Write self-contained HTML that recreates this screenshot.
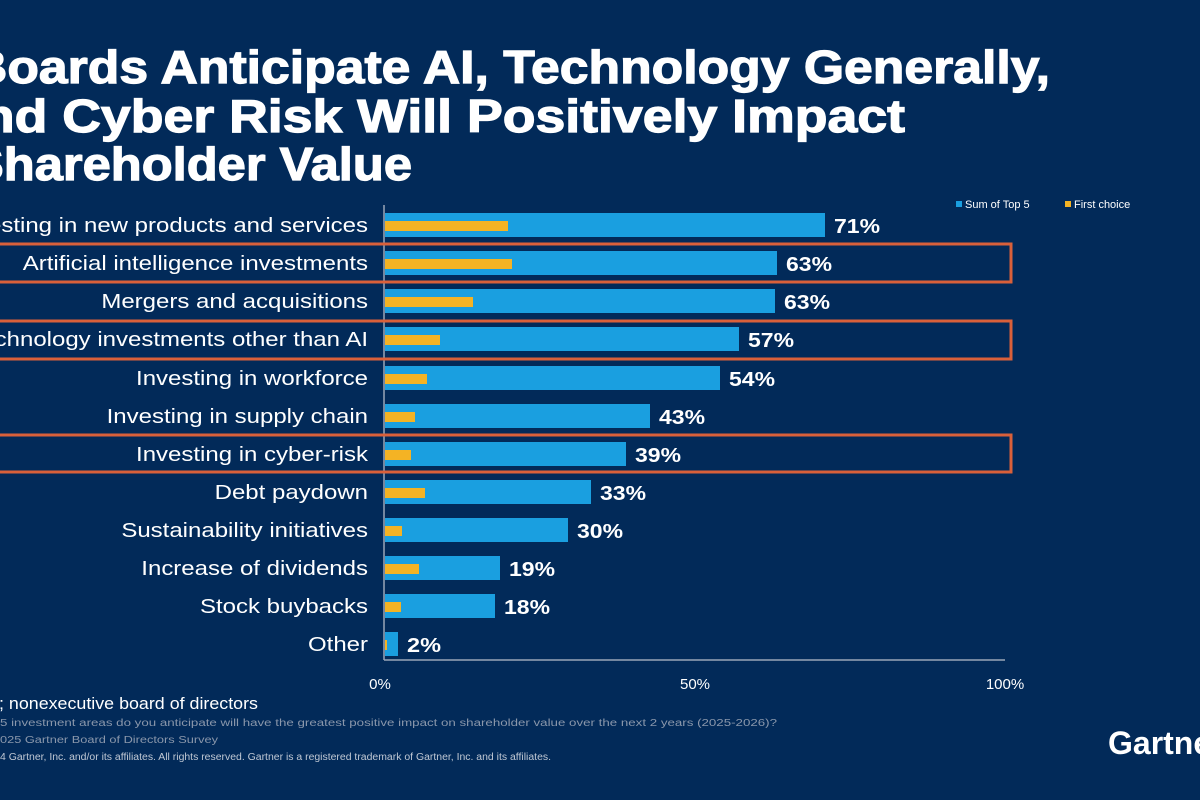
<!DOCTYPE html>
<html><head><meta charset="utf-8"><style>
html,body{margin:0;padding:0;background:#022a59;}
svg{display:block;font-family:"Liberation Sans",Arial,sans-serif;}
</style></head><body>
<svg width="1200" height="800" viewBox="0 0 1200 800" xmlns="http://www.w3.org/2000/svg">
<rect width="1200" height="800" fill="#022a59"/>
<g fill="#fff" font-weight="bold" font-size="46" stroke="#fff" stroke-width="1.2">
<text x="-30" y="83" textLength="1080" lengthAdjust="spacingAndGlyphs">Boards Anticipate AI, Technology Generally,</text>
<text x="-48" y="132" textLength="953" lengthAdjust="spacingAndGlyphs">and Cyber Risk Will Positively Impact</text>
<text x="-30" y="180" textLength="442" lengthAdjust="spacingAndGlyphs">Shareholder Value</text>
</g>
<g font-size="11" fill="#fff">
<rect x="956" y="201" width="6" height="6" fill="#1a9fe0"/><text x="965" y="208">Sum of Top 5</text>
<rect x="1065" y="201" width="6" height="6" fill="#f4b324"/><text x="1074" y="208">First choice</text>
</g>
<line x1="384" y1="205" x2="384" y2="660" stroke="#9aa6b8" stroke-width="1.5"/>
<line x1="384" y1="660" x2="1005" y2="660" stroke="#9aa6b8" stroke-width="1.5"/>
<g font-size="15" fill="#fff" text-anchor="middle">
<text x="380" y="689">0%</text><text x="695" y="689">50%</text><text x="1005" y="689">100%</text>
</g>
<g fill="#1a9fe0">
<rect x="385" y="213" width="440" height="24"/>
<rect x="385" y="251" width="392" height="24"/>
<rect x="385" y="289" width="390" height="24"/>
<rect x="385" y="327" width="354" height="24"/>
<rect x="385" y="366" width="335" height="24"/>
<rect x="385" y="404" width="265" height="24"/>
<rect x="385" y="442" width="241" height="24"/>
<rect x="385" y="480" width="206" height="24"/>
<rect x="385" y="518" width="183" height="24"/>
<rect x="385" y="556" width="115" height="24"/>
<rect x="385" y="594" width="110" height="24"/>
<rect x="385" y="632" width="13" height="24"/>
</g>
<g fill="#f4b324">
<rect x="385" y="221" width="123" height="10"/>
<rect x="385" y="259" width="127" height="10"/>
<rect x="385" y="297" width="88" height="10"/>
<rect x="385" y="335" width="55" height="10"/>
<rect x="385" y="374" width="42" height="10"/>
<rect x="385" y="412" width="30" height="10"/>
<rect x="385" y="450" width="26" height="10"/>
<rect x="385" y="488" width="40" height="10"/>
<rect x="385" y="526" width="17" height="10"/>
<rect x="385" y="564" width="34" height="10"/>
<rect x="385" y="602" width="16" height="10"/>
<rect x="385" y="640" width="2" height="10"/>
</g>
<g transform="translate(368,0) scale(1.2,1)" font-size="20" fill="#fff" text-anchor="end">
<text x="0" y="232">Investing in new products and services</text>
<text x="0" y="270">Artificial intelligence investments</text>
<text x="0" y="308">Mergers and acquisitions</text>
<text x="0" y="346">Technology investments other than AI</text>
<text x="0" y="385">Investing in workforce</text>
<text x="0" y="423">Investing in supply chain</text>
<text x="0" y="461">Investing in cyber-risk</text>
<text x="0" y="499">Debt paydown</text>
<text x="0" y="537">Sustainability initiatives</text>
<text x="0" y="575">Increase of dividends</text>
<text x="0" y="613">Stock buybacks</text>
<text x="0" y="651">Other</text>
</g>
<g font-size="20" fill="#fff" font-weight="bold">
<text x="834" y="233" textLength="46" lengthAdjust="spacingAndGlyphs">71%</text>
<text x="786" y="271" textLength="46" lengthAdjust="spacingAndGlyphs">63%</text>
<text x="784" y="309" textLength="46" lengthAdjust="spacingAndGlyphs">63%</text>
<text x="748" y="347" textLength="46" lengthAdjust="spacingAndGlyphs">57%</text>
<text x="729" y="386" textLength="46" lengthAdjust="spacingAndGlyphs">54%</text>
<text x="659" y="424" textLength="46" lengthAdjust="spacingAndGlyphs">43%</text>
<text x="635" y="462" textLength="46" lengthAdjust="spacingAndGlyphs">39%</text>
<text x="600" y="500" textLength="46" lengthAdjust="spacingAndGlyphs">33%</text>
<text x="577" y="538" textLength="46" lengthAdjust="spacingAndGlyphs">30%</text>
<text x="509" y="576" textLength="46" lengthAdjust="spacingAndGlyphs">19%</text>
<text x="504" y="614" textLength="46" lengthAdjust="spacingAndGlyphs">18%</text>
<text x="407" y="652" textLength="34" lengthAdjust="spacingAndGlyphs">2%</text>
</g>
<g fill="none" stroke="#d9603a" stroke-width="3">
<rect x="-5" y="244" width="1016" height="38"/>
<rect x="-5" y="321" width="1016" height="38"/>
<rect x="-5" y="435" width="1016" height="37"/>
</g>
<text x="-1" y="709" font-size="17" fill="#fff" textLength="259" lengthAdjust="spacingAndGlyphs">; nonexecutive board  of directors</text>
<g font-size="10" fill="#8a97ab">
<text x="0" y="726" textLength="777" lengthAdjust="spacingAndGlyphs">5 investment areas do you anticipate will have the greatest positive impact on shareholder value over the next 2 years      (2025-2026)?</text>
<text x="0" y="743" textLength="218" lengthAdjust="spacingAndGlyphs">025 Gartner Board of Directors Survey</text>
<text x="0" y="760" fill="#c0c8d4" textLength="551" lengthAdjust="spacingAndGlyphs">4 Gartner, Inc. and/or its affiliates. All rights reserved. Gartner is a registered trademark of Gartner, Inc. and its affiliates.</text>
</g>
<text x="1108" y="754" font-size="32" fill="#fff" font-weight="bold">Gartner</text>
</svg>
</body></html>
